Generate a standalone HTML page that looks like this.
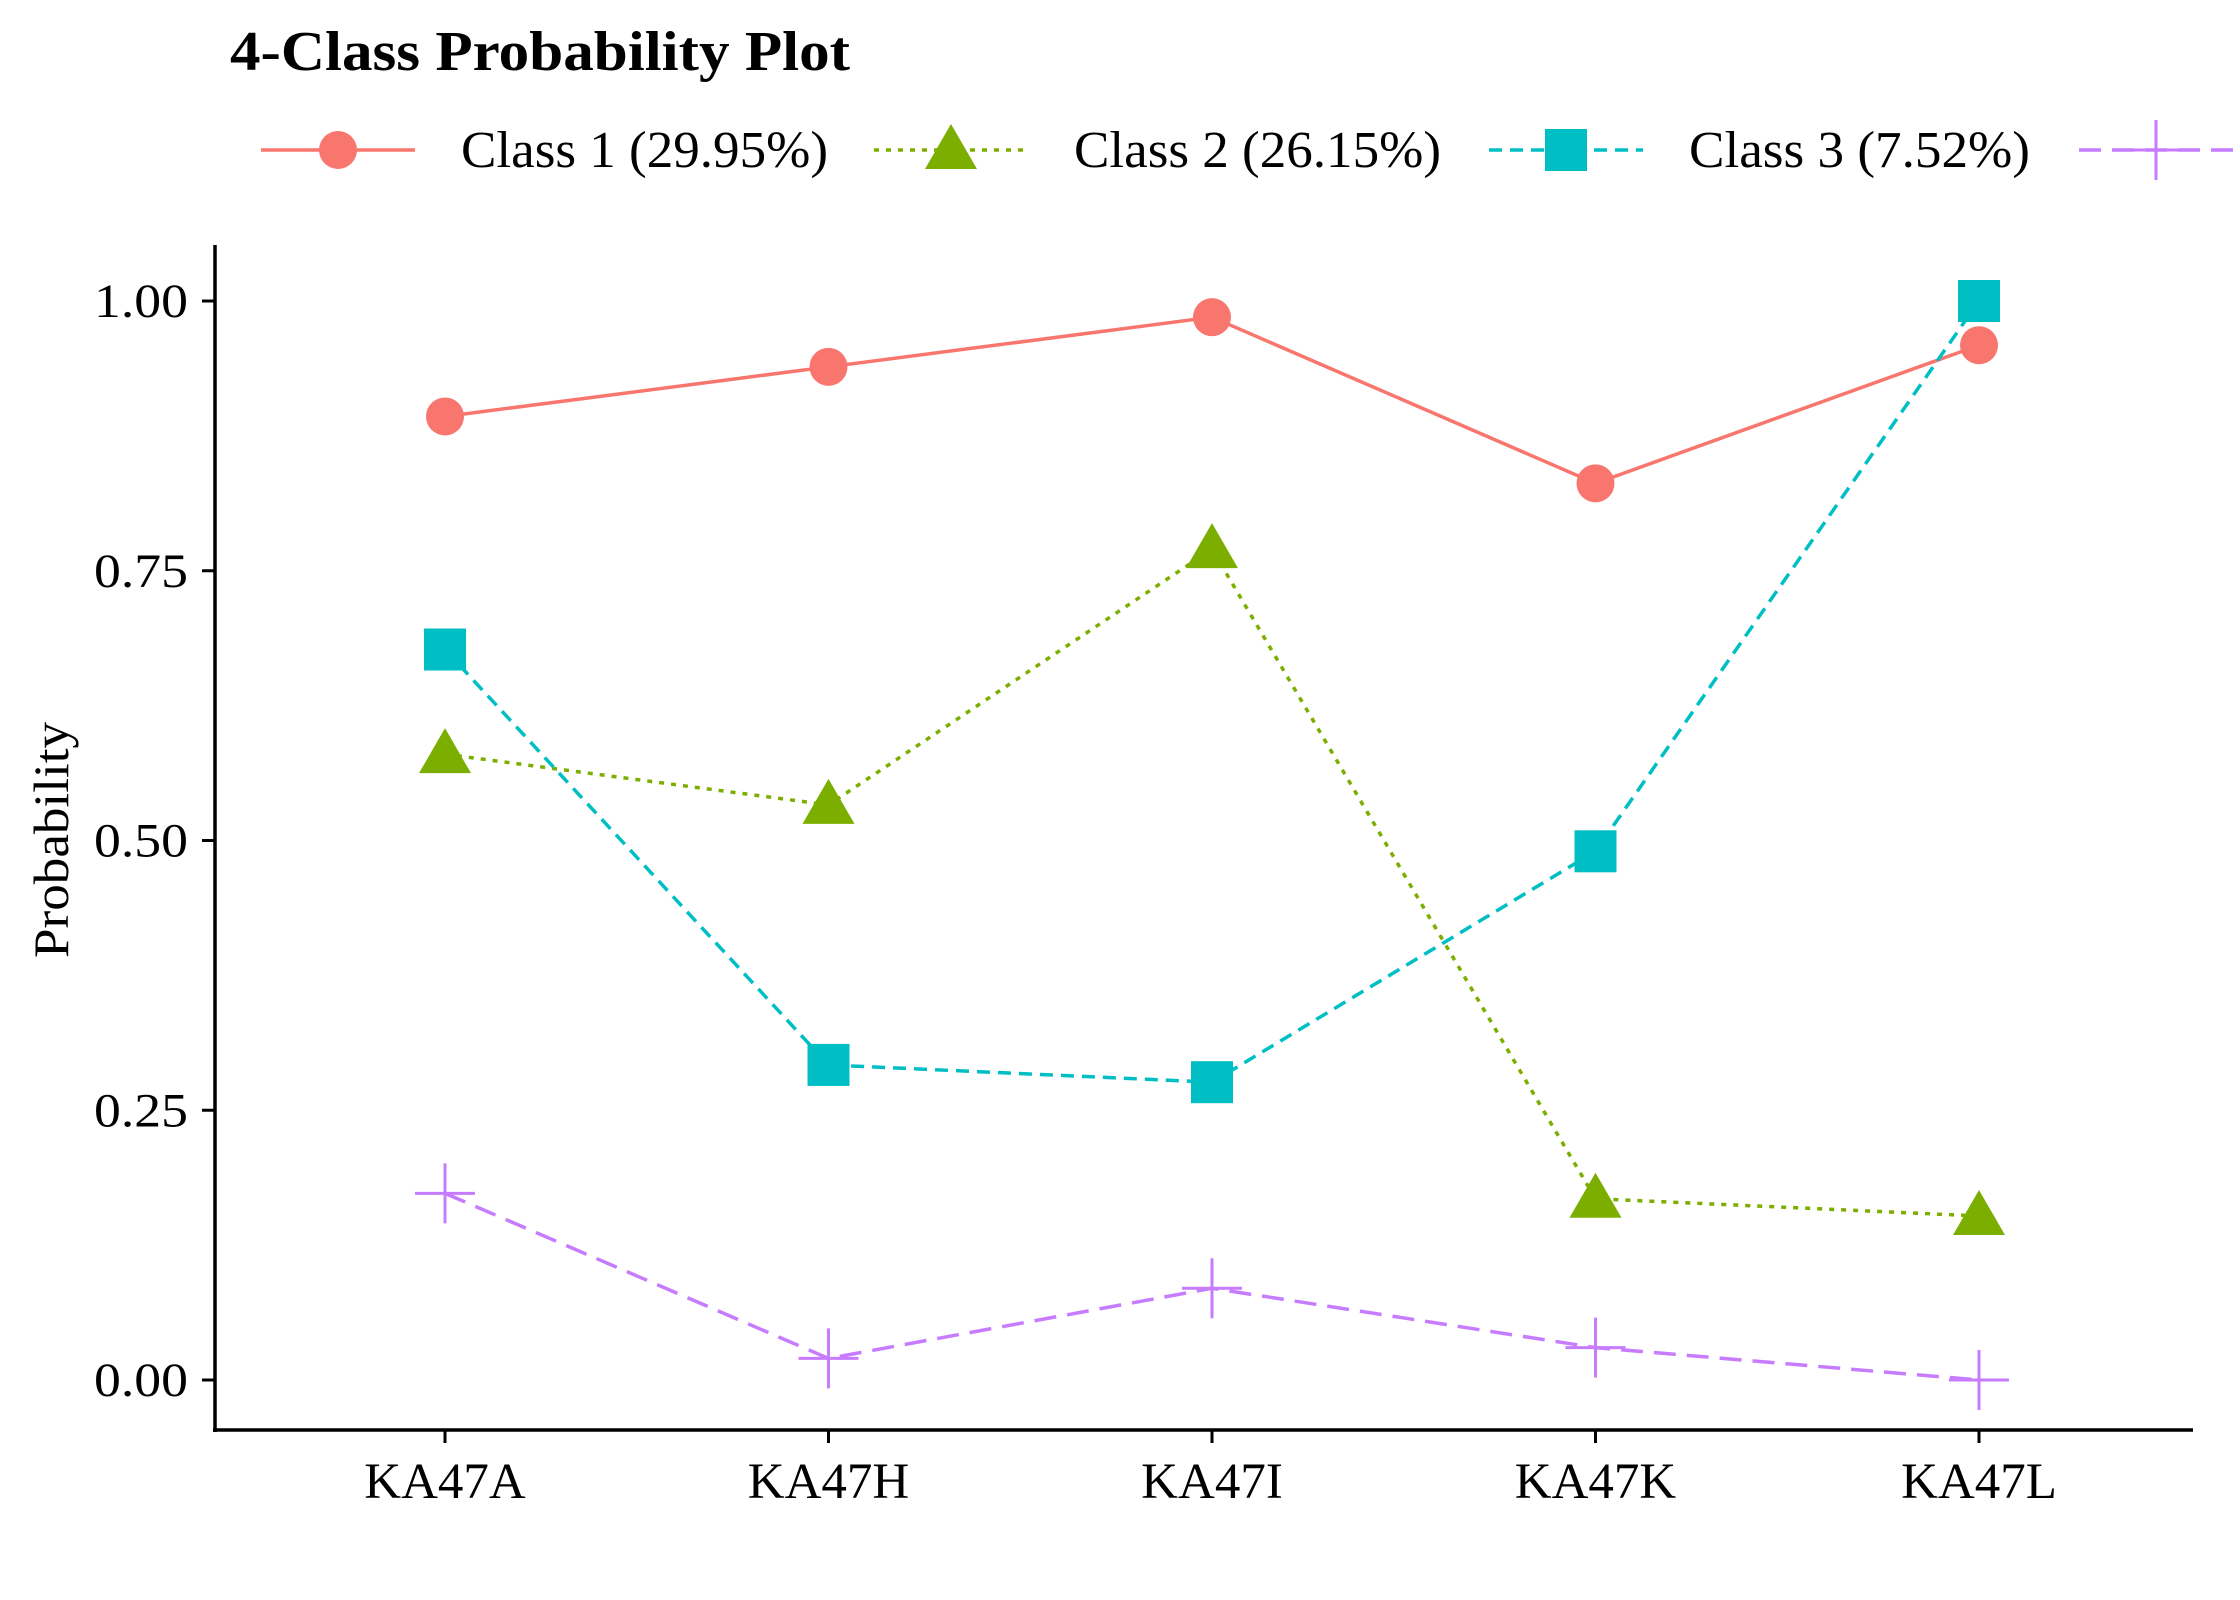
<!DOCTYPE html>
<html><head><meta charset="utf-8">
<style>
html,body{margin:0;padding:0;background:#fff;}
svg{display:block;font-family:"Liberation Serif",serif;}
</style></head>
<body>
<svg id="chart" width="2240" height="1600" viewBox="0 0 2240 1600">
<text x="230" y="70" font-size="56" font-weight="bold" textLength="620" lengthAdjust="spacingAndGlyphs">4-Class Probability Plot</text>
<g id="legend"></g>
<g id="axes"></g>
<g id="series"></g>
<text transform="translate(68,840) rotate(-90)" text-anchor="middle" font-size="50" textLength="236" lengthAdjust="spacingAndGlyphs">Probability</text>
</svg>
<script>
const categories = ["KA47A","KA47H","KA47I","KA47K","KA47L"];
const class1 = [0.893,0.939,0.985,0.831,0.959];
const class2 = [0.580,0.533,0.770,0.168,0.152];
const class3 = [0.677,0.292,0.276,0.490,1.000];
const class4 = [0.173,0.020,0.085,0.030,0.000];
const yTicks = [0,0.25,0.5,0.75,1];
const yTickLabels = ["0.00","0.25","0.50","0.75","1.00"];
const seriesLabels = ["Class 1 (29.95%)","Class 2 (26.15%)","Class 3 (7.52%)","Class 4"];

const NS="http://www.w3.org/2000/svg";
function mk(tag,attrs,parent){const e=document.createElementNS(NS,tag);for(const k in attrs)e.setAttribute(k,attrs[k]);parent.appendChild(e);return e;}
const xScale=i=>445+i*383.5;
const yScale=v=>1380-v*1079;

const axes=document.getElementById('axes');
const yl=mk('line',{x1:215,y1:245,x2:215,y2:1432,stroke:'#000','stroke-width':3.5},axes);


const xl=mk('line',{x1:213,y1:1430,x2:2193,y2:1430,stroke:'#000','stroke-width':3.5},axes);


yTicks.forEach((v,i)=>{
  const y=yScale(v);
  const t=mk('line',{x1:202,y1:y,x2:215,y2:y,stroke:'#000','stroke-width':3},axes);
  
  
  const l=mk('text',{x:188,y:y+16,'text-anchor':'end','font-size':48,textLength:94,lengthAdjust:'spacingAndGlyphs'},axes);
  l.textContent=yTickLabels[i];
  
  
});
categories.forEach((c,i)=>{
  const x=xScale(i);
  const t=mk('line',{x1:x,y1:1430,x2:x,y2:1443,stroke:'#000','stroke-width':3},axes);
  
  
  const l=mk('text',{x:x,y:1498,'text-anchor':'middle','font-size':51},axes);
  l.textContent=c;
  
  
});

const styles=[
 {color:'#F8766D',dash:'',shape:'circle'},
 {color:'#7CAE00',dash:'5,7',shape:'triangle'},
 {color:'#00BFC4',dash:'13,8',shape:'square'},
 {color:'#C77CFF',dash:'22,11',shape:'plus'}
];
function marker(shape,color,x,y,parent){
  let e;
  if(shape==='circle') e=mk('circle',{cx:x,cy:y,r:19,fill:color},parent);
  else if(shape==='triangle') e=mk('polygon',{points:`${x},${y-26} ${x+26},${y+19} ${x-26},${y+19}`,fill:color},parent);
  else if(shape==='square') e=mk('rect',{x:x-21,y:y-21,width:42,height:42,fill:color},parent);
  else e=mk('path',{d:`M${x-30},${y}H${x+30}M${x},${y-30}V${y+30}`,stroke:color,'stroke-width':3,fill:'none'},parent);
  return e;
}
const allSeries=[class1,class2,class3,class4];
const sg=document.getElementById('series');
allSeries.forEach((vals,si)=>{
  const st=styles[si];
  const g=mk('g',{},sg);
  
  
  const pts=vals.map((v,i)=>xScale(i)+','+yScale(v)).join(' ');
  const pl=mk('polyline',{points:pts,fill:'none',stroke:st.color,'stroke-width':3.5,'stroke-dasharray':st.dash},g);
  
  
  vals.forEach((v,i)=>{
    const m=marker(st.shape,st.color,xScale(i),yScale(v),g);
    
    
  });
});

const lg=document.getElementById('legend');
const legX=[261,874,1489,2079];
const legW=[367,367,341,300];
seriesLabels.forEach((lab,si)=>{
  const st=styles[si];const x0=legX[si];const y=150;
  const g=mk('g',{},lg);
  
  
  mk('line',{x1:x0,y1:y,x2:x0+154,y2:y,stroke:st.color,'stroke-width':3.5,'stroke-dasharray':st.dash},g);
  marker(st.shape,st.color,x0+77,y,g);
  const t=mk('text',{x:x0+200,y:y+17,'font-size':52,textLength:legW[si],lengthAdjust:'spacingAndGlyphs'},g);
  t.textContent=lab;
});
</script>
</body></html>
